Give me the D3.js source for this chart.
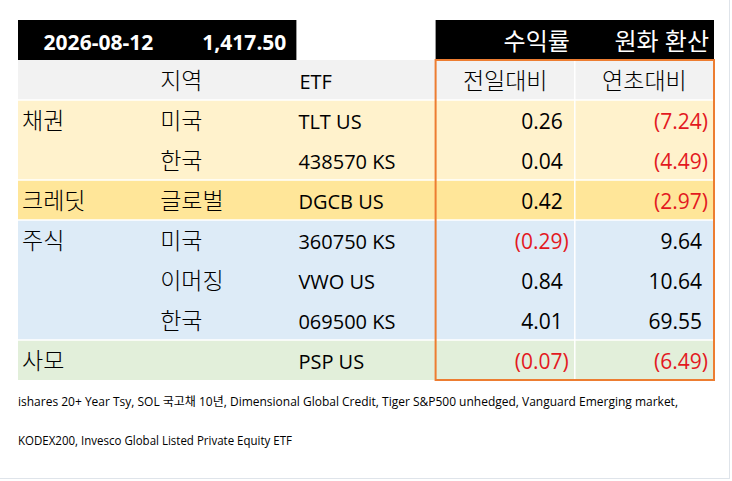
<!DOCTYPE html>
<html>
<head>
<meta charset="utf-8">
<script src="https://cdn.jsdelivr.net/npm/d3@7"></script>
<style>
  body { margin: 0; background: #fff; }
  text { font-family: "Open Sans", "Noto Sans CJK KR", sans-serif; }
  .ko { font-family: "Noto Sans CJK KR", sans-serif; font-weight: 300; }
</style>
</head>
<body>
<div id="table"></div>
<script>
const asOf = "2026-08-12";
const fxRate = 1417.50;
const groups = ["채권", "채권", "크레딧", "주식", "주식", "주식", "사모"];
const regions = ["미국", "한국", "글로벌", "미국", "이머징", "한국", ""];
const etfs = ["TLT US", "438570 KS", "DGCB US", "360750 KS", "VWO US", "069500 KS", "PSP US"];
const dailyChg = [0.26, 0.04, 0.42, -0.29, 0.84, 4.01, -0.07];
const ytdChg = [-7.24, -4.49, -2.97, 9.64, 10.64, 69.55, -6.49];
const headers = ["", "지역", "ETF", "전일대비", "연초대비"];
const topHeaders = ["수익률", "원화 환산"];
const footnotes = [
    "ishares 20+ Year Tsy, SOL 국고채 10년, Dimensional Global Credit, Tiger S&P500 unhedged, Vanguard Emerging market,",
    "KODEX200, Invesco Global Listed Private Equity ETF"
];

const groupFill = {"채권": "#fff2cc", "크레딧": "#ffe699", "주식": "#ddebf7", "사모": "#e2efda"};
const red = "#e3191f";

const width = 732, height = 481;
const svg = d3.select("#table").append("svg")
    .attr("width", width)
    .attr("height", height);

svg.append("rect").attr("width", width).attr("height", height).attr("fill", "#fff");

// rows: -1 = black title bar, 0 = header, 1..7 = data
const y = d3.scaleBand().domain(d3.range(-1, groups.length + 1)).range([20, 380]);
const x = d3.scaleBand().domain(d3.range(5)).range([18, 714]);
const rh = y.bandwidth(), cw = x.bandwidth();
const base = 29;

const rows = groups.map((g, i) => ({
    i: i + 1,
    group: g,
    first: i === 0 || groups[i - 1] !== g,
    region: regions[i],
    etf: etfs[i],
    d: dailyChg[i],
    ytd: ytdChg[i]
}));

const fmt = d3.format(",.2f");
const showNum = v => v < 0 ? "(" + fmt(-v) + ")" : fmt(v);

// black title bars
svg.append("rect").attr("x", x(0)).attr("y", y(-1)).attr("width", cw * 2).attr("height", rh).attr("fill", "#000");
svg.append("rect").attr("x", x(3)).attr("y", y(-1)).attr("width", cw * 2).attr("height", rh).attr("fill", "#000");

svg.append("text").attr("x", x(0) + cw - 4).attr("y", y(-1) + base + 1)
    .attr("text-anchor", "end").attr("font-size", 21).attr("font-weight", "bold").attr("fill", "#fff")
    .text(asOf);
svg.append("text").attr("x", x(1) + cw - 10).attr("y", y(-1) + base + 1)
    .attr("text-anchor", "end").attr("font-size", 21).attr("font-weight", "bold").attr("fill", "#fff")
    .text(fmt(fxRate));
svg.selectAll(".top").data(topHeaders).enter().append("text")
    .attr("x", (d, i) => x(3 + i) + cw - 5)
    .attr("y", y(-1) + base + 1)
    .attr("text-anchor", "end").attr("font-size", 24).attr("fill", "#fff")
    .text(d => d);

// header row
svg.append("rect").attr("x", x(0)).attr("y", y(0)).attr("width", cw * 5).attr("height", rh).attr("fill", "#f2f2f2");
svg.selectAll(".hdr").data(headers).enter().append("text")
    .attr("class", (d, i) => i === 2 ? null : "ko")
    .attr("x", (d, i) => i < 3 ? x(i) + 3 : x(i) + cw / 2)
    .attr("y", y(0) + base)
    .attr("text-anchor", (d, i) => i < 3 ? "start" : "middle")
    .attr("font-size", (d, i) => i === 2 ? 20 : 23)
    .text(d => d);

// data rows
svg.selectAll(".bg").data(rows).enter().append("rect")
    .attr("x", x(0)).attr("y", d => y(d.i))
    .attr("width", cw * 5).attr("height", rh)
    .attr("fill", d => groupFill[d.group]);

const row = svg.selectAll(".row").data(rows).enter().append("g")
    .attr("transform", d => `translate(0,${y(d.i) + base})`);

row.append("text").attr("class", "ko").attr("x", x(0) + 4).attr("font-size", 23)
    .text(d => d.first ? d.group : "");
row.append("text").attr("class", "ko").attr("x", x(1) + 3).attr("font-size", 23)
    .text(d => d.region);
row.append("text").attr("x", x(2) + 2).attr("font-size", 20)
    .text(d => d.etf);
row.append("text")
    .attr("x", d => x(3) + cw - (d.d < 0 ? 6 : 12))
    .attr("text-anchor", "end").attr("font-size", 21)
    .attr("fill", d => d.d < 0 ? red : "#000")
    .text(d => showNum(d.d));
row.append("text")
    .attr("x", d => x(4) + cw - (d.ytd < 0 ? 6 : 12))
    .attr("text-anchor", "end").attr("font-size", 21)
    .attr("fill", d => d.ytd < 0 ? red : "#000")
    .text(d => showNum(d.ytd));

// white separators between groups
const seps = [1].concat(rows.filter(d => d.first && d.i > 1).map(d => d.i));
svg.selectAll(".sep").data(seps).enter().append("line")
    .attr("x1", x(0)).attr("x2", x(4) + cw)
    .attr("y1", d => y(d)).attr("y2", d => y(d))
    .attr("stroke", "#fff").attr("stroke-width", 1.5);
svg.append("line")
    .attr("x1", x(4)).attr("x2", x(4))
    .attr("y1", y(0)).attr("y2", y(groups.length) + rh)
    .attr("stroke", "#fff").attr("stroke-width", 1.5);

// orange frame around the return columns
svg.append("rect")
    .attr("x", x(3)).attr("y", y(0))
    .attr("width", cw * 2).attr("height", rh * (groups.length + 1))
    .attr("fill", "none").attr("stroke", "#ed7d31").attr("stroke-width", 2);

// footnotes
svg.selectAll(".note").data(footnotes).enter().append("text")
    .attr("x", 18)
    .attr("y", (d, i) => 406 + i * 39)
    .attr("font-size", 12)
    .attr("textLength", (d, i) => i === 0 ? 660 : 274)
    .attr("lengthAdjust", "spacingAndGlyphs")
    .text(d => d);

// faint outer edge
svg.append("line").attr("x1", 729.5).attr("x2", 729.5).attr("y1", 0).attr("y2", 479)
    .attr("stroke", "#dfe4ea");
svg.append("line").attr("x1", 0).attr("x2", 730).attr("y1", 478.5).attr("y2", 478.5)
    .attr("stroke", "#dfe4ea");
</script>
</body>
</html>
